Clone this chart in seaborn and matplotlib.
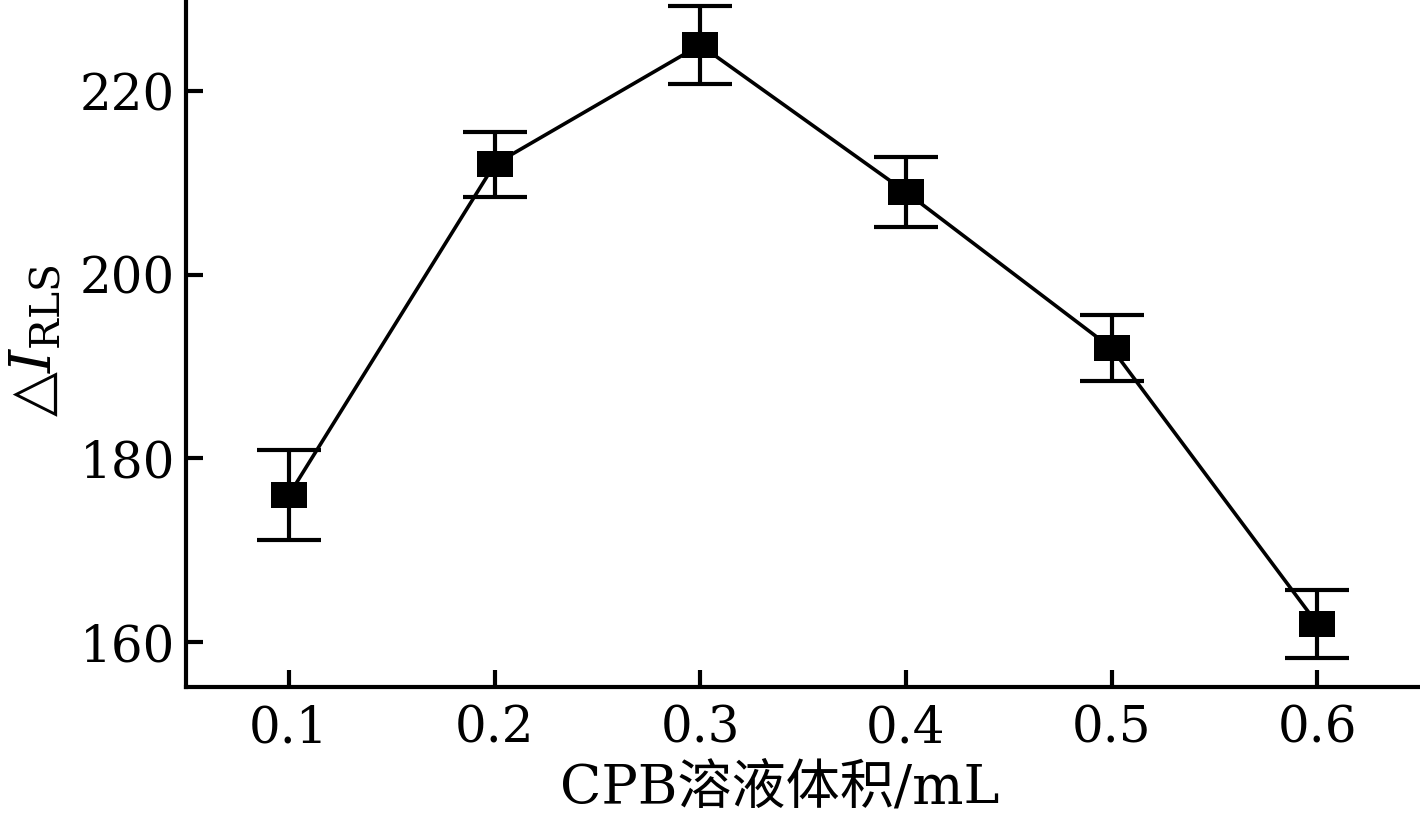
"""Recreate the CPB volume optimisation chart (delta I_RLS vs CPB volume)."""

import matplotlib
matplotlib.use("Agg")
import matplotlib.pyplot as plt
import pandas as pd
import seaborn as sns

volumes = [0.1, 0.2, 0.3, 0.4, 0.5, 0.6]
delta_i = [176.0, 212.0, 225.0, 209.0, 192.0, 162.0]
errors = [4.9, 3.5, 4.2, 3.8, 3.6, 3.7]
x_ticks = [0.1, 0.2, 0.3, 0.4, 0.5, 0.6]
y_ticks = [160, 180, 200, 220]

sns.set_theme(style="ticks")
plt.rcParams["font.family"] = ["DejaVu Serif", "Noto Sans CJK SC", "DejaVu Sans"]
plt.rcParams["mathtext.fontset"] = "dejavuserif"

df = pd.DataFrame({"volume": volumes, "delta_i": delta_i, "err": errors})

fig = plt.figure(figsize=(14.2, 8.15), dpi=100)
ax = fig.add_axes([0.131, 0.157, 0.869, 0.843])

# error bars first, then the line with rectangular markers on top
ax.errorbar(df["volume"], df["delta_i"], yerr=df["err"], fmt="none",
            ecolor="black", elinewidth=3, capsize=23, capthick=3, zorder=2)
rect = [(-1, -0.7), (1, -0.7), (1, 0.7), (-1, 0.7), (-1, -0.7)]
sns.lineplot(data=df, x="volume", y="delta_i", ax=ax, color="black",
             linewidth=2.6, marker=rect, markersize=26, markeredgewidth=0,
             markerfacecolor="black", zorder=3)

ax.set_xlim(0.05, 0.65)
ax.set_ylim(155.1, 229.9)
ax.set_xticks(x_ticks)
ax.set_xticklabels([f"{v:.1f}" for v in x_ticks])
ax.set_yticks(y_ticks)

for side in ("top", "right"):
    ax.spines[side].set_visible(False)
for side in ("left", "bottom"):
    ax.spines[side].set_linewidth(3)
    ax.spines[side].set_color("black")

ax.tick_params(direction="in", length=12, width=3, labelsize=36,
               colors="black", pad=8)
ax.tick_params(axis="x", pad=12)

ax.set_xlabel("CPB溶液体积/mL", fontsize=39, color="black")
ax.xaxis.set_label_coords(0.481, -0.11, transform=ax.transAxes)
ax.xaxis.label.set_va("top")
ax.set_ylabel(r"△$\mathit{I}_{\mathrm{RLS}}$", fontsize=42, color="black")
ax.yaxis.set_label_coords(-0.099, 0.504, transform=ax.transAxes)

fig.savefig("out.png", dpi=100)
